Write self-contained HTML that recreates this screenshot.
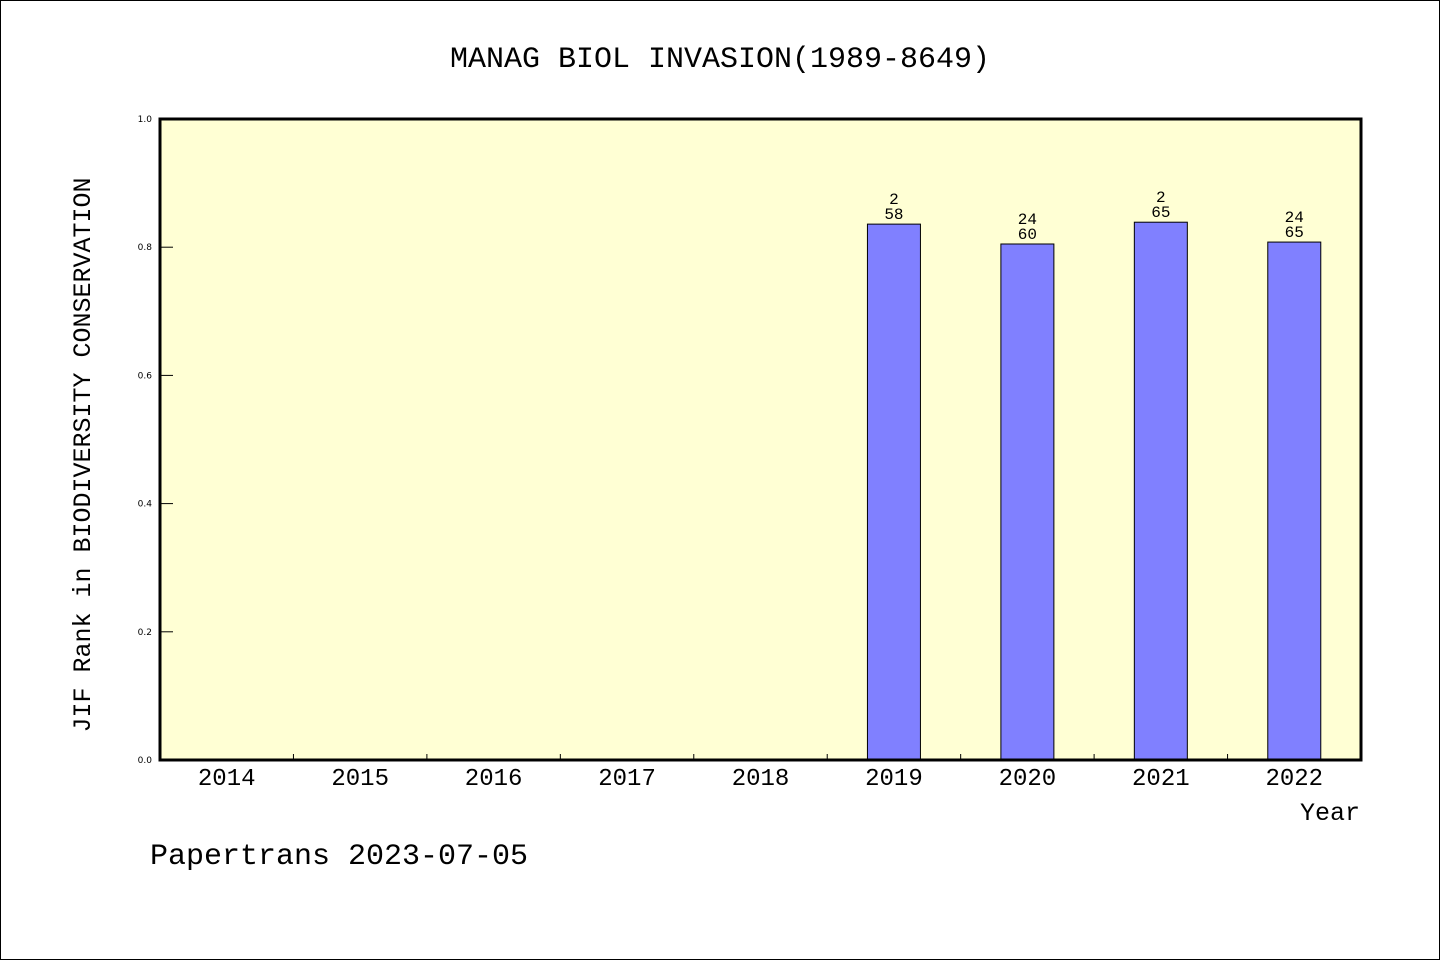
<!DOCTYPE html>
<html><head><meta charset="utf-8"><style>
html,body{margin:0;padding:0;background:#fff}
svg{display:block}
text{font-family:"WenQuanYi Zen Hei","Liberation Mono",monospace;fill:#000}
</style></head><body>
<svg id="chart" width="1440" height="960" xmlns="http://www.w3.org/2000/svg">
<rect x="0.5" y="0.5" width="1439" height="959" fill="#fff" stroke="#000" stroke-width="1"/>
<text x="720" y="67" font-size="30" text-anchor="middle">MANAG BIOL INVASION(1989-8649)</text>
<rect x="160" y="119" width="1201" height="641" fill="#ffffd4"/>
<g id="bars"></g>
<g id="ticks"></g>
<rect x="160" y="119" width="1201" height="641" fill="none" stroke="#000" stroke-width="3"/>
<text transform="translate(90,455) rotate(-90)" font-size="25" text-anchor="middle">JIF Rank in BIODIVERSITY CONSERVATION</text>
<text x="1360" y="820" font-size="25" text-anchor="end">Year</text>
<text x="150" y="864" font-size="30">Papertrans 2023-07-05</text>
</svg>
<script>
const categories=["2014","2015","2016","2017","2018","2019","2020","2021","2022"];
const values=[null,null,null,null,null,0.836,0.805,0.839,0.808];
const rankLabels=["","","","","","2","24","2","24"];
const totalLabels=["","","","","","58","60","65","65"];
const yTicks=[0,0.2,0.4,0.6,0.8,1.0];
const yTickLabels=["0.0","0.2","0.4","0.6","0.8","1.0"];
const X0=160,X1=1361,Y0=760,Y1=119;
const NS="http://www.w3.org/2000/svg";
const step=(X1-X0)/categories.length;
const xc=i=>X0+step*(i+0.5);
const y=v=>Y0-(Y0-Y1)*v;
function mk(t,a,p){const e=document.createElementNS(NS,t);for(const k in a)e.setAttribute(k,a[k]);p.appendChild(e);return e;}
const bars=document.getElementById('bars'),ticks=document.getElementById('ticks');
categories.forEach((c,i)=>{
  const lab=mk('text',{x:xc(i),y:785,'font-size':24,'text-anchor':'middle'},ticks);
  lab.textContent=c;
  
  
  if(i>0){const t=mk('line',{x1:X0+step*i,x2:X0+step*i,y1:Y0,y2:Y0-6,stroke:'#000','stroke-width':1},ticks);
    
    }
  const v=values[i];
  if(v!=null){
    const bw=53;
    const r=mk('rect',{x:xc(i)-bw/2,y:y(v),width:bw,height:Y0-y(v),fill:'#8080ff',stroke:'#000','stroke-width':1},bars);
    
    
    const t1=mk('text',{x:xc(i),y:y(v)-20,'font-size':16,'text-anchor':'middle'},bars);
    t1.textContent=rankLabels[i];
    
    
    const t2=mk('text',{x:xc(i),y:y(v)-5,'font-size':16,'text-anchor':'middle'},bars);
    t2.textContent=totalLabels[i];
    
    
  }
});
yTicks.forEach((v,i)=>{
  const l=mk('line',{x1:X0,x2:X0+13,y1:y(v),y2:y(v),stroke:'#000','stroke-width':1},ticks);
  
  
  const t=mk('text',{x:152,y:y(v)+3,'font-size':9,'text-anchor':'end'},ticks);
  t.setAttribute('style','font-family:"DejaVu Sans",sans-serif');
  t.textContent=yTickLabels[i];
  
  
});
</script>
</body></html>
